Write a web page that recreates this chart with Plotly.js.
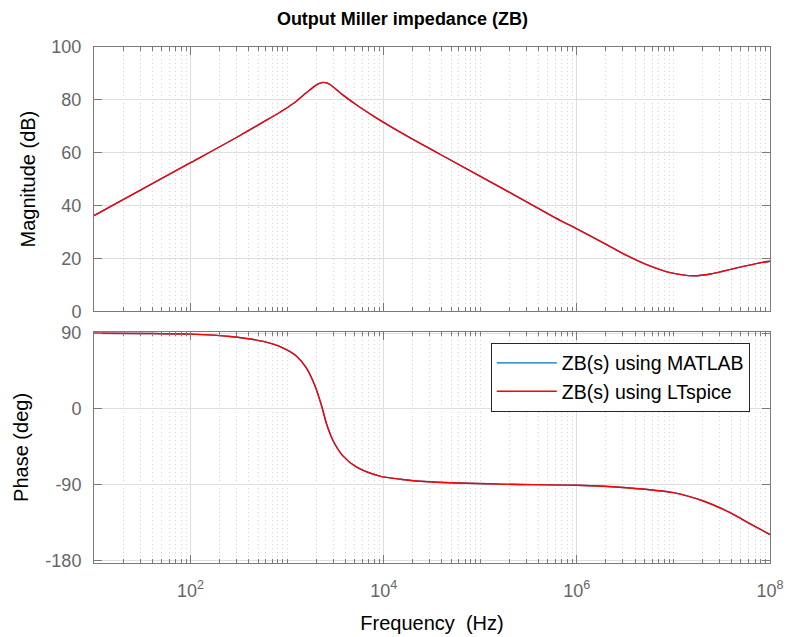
<!DOCTYPE html>
<html>
<head>
<meta charset="utf-8">
<script src="https://cdn.plot.ly/plotly-3.0.1.min.js"></script>
<style>html,body{margin:0;padding:0;background:#fff;}#chart{width:789px;height:637px;}</style>
</head>
<body>
<div id="chart"></div>
<script>
// Magnitude (dB) vs frequency (Hz)
const magFreq = [10, 31.6, 100, 325, 524, 843, 1159, 1592, 2022, 2200, 2368, 2560, 2780, 3820, 5675, 8450, 14800, 38300, 203000, 670000, 1000000, 1880000, 3280000, 5280000, 9230000, 16100000, 25900000, 45200000, 78900000, 100000000];
const magDb   = [36.2, 46.2, 56.2, 66.5, 70.9, 75.3, 78.6, 82.8, 85.7, 86.3, 86.6, 86.4, 85.8, 81.7, 77.2, 73.1, 67.8, 59.4, 44.9, 34.4, 31.2, 25.9, 21.1, 17.6, 14.6, 13.4, 14.3, 16.4, 18.3, 18.9];
// Phase (deg) vs frequency (Hz)
const phFreq = [10, 31.6, 100, 257, 566, 912, 1260, 1580, 1950, 2280, 2570, 3010, 3800, 5250, 9120, 14800, 32400, 158000, 1000000, 3280000, 10000000, 20400000, 38600000, 61700000, 100000000];
const phDeg  = [89.9, 89.6, 88.8, 86.0, 80.1, 72.2, 62.3, 48.6, 26.8, 3.1, -18.6, -38.4, -56.1, -69.2, -79.8, -83.5, -86.9, -89.4, -90.6, -93.6, -99.5, -109.4, -123.2, -136.2, -149.2];
const seriesNames = ['ZB(s) using MATLAB', 'ZB(s) using LTspice'];
const seriesColors = ['#0072BD', '#FF0000'];
const xTickVals = [1e2, 1e4, 1e6, 1e8];
const xTickText = ['10<sup>2</sup>', '10<sup>4</sup>', '10<sup>6</sup>', '10<sup>8</sup>'];
const magTicks = [0, 20, 40, 60, 80, 100];
const magTickText = ['0', '20', '40', '60', '80', '100'];
const phTicks = [-180, -90, 0, 90];
const phTickText = ['-180', '-90', '0', '90'];

const FONT = 'Liberation Sans, Arial, Helvetica, sans-serif';
const traces = [];
seriesNames.forEach((nm, i) => {
  traces.push({x: magFreq, y: magDb, xaxis: 'x', yaxis: 'y', mode: 'lines', name: nm,
    line: {color: seriesColors[i], width: 1.4, shape: 'spline', smoothing: 1.0}, showlegend: false});
  traces.push({x: phFreq, y: phDeg, xaxis: 'x2', yaxis: 'y2', mode: 'lines', name: nm,
    line: {color: seriesColors[i], width: 1.4, shape: 'spline', smoothing: 0.8}, showlegend: true});
});

const axCommon = {
  showline: true, linecolor: '#7a7a7a', linewidth: 1, mirror: 'ticks',
  ticks: 'inside', tickcolor: '#7a7a7a', zeroline: false,
  showgrid: true, gridcolor: '#dedede', gridwidth: 1,
  tickfont: {family: FONT, size: 18, color: '#666666'}
};
const xCommon = Object.assign({}, axCommon, {
  type: 'log', range: [1, 8], tickmode: 'array', tickvals: xTickVals, ticktext: xTickText, ticklen: 8,
  minor: {dtick: 'D1', ticks: 'inside', ticklen: 4, tickcolor: '#7a7a7a', showgrid: true, gridcolor: '#d4d4d4', griddash: '1px,3px', gridwidth: 1}
});

const layout = {
  width: 789, height: 637,
  margin: {l: 94, r: 19, t: 47, b: 74},
  paper_bgcolor: '#ffffff', plot_bgcolor: '#ffffff',
  font: {family: FONT, color: '#000'},
  title: {text: '<b>Output Miller impedance (ZB)</b>', font: {family: FONT, size: 18, color: '#000'},
          xref: 'container', yref: 'container', x: 0.51, xanchor: 'center', y: 0.97, yanchor: 'middle'},
  xaxis: Object.assign({}, xCommon, {domain: [0, 1], anchor: 'y', showticklabels: false}),
  yaxis: Object.assign({}, axCommon, {domain: [0.488, 1], anchor: 'x', range: [0, 100], tickmode: 'array', tickvals: magTicks, ticktext: magTickText, ticklen: 8,
    ticklabelstandoff: 8,
    title: {text: 'Magnitude (dB)', font: {family: FONT, size: 20, color: '#000'}, standoff: 10}}),
  xaxis2: Object.assign({}, xCommon, {domain: [0, 1], anchor: 'y2', ticklabelstandoff: 11,
    title: {text: 'Frequency  (Hz)', font: {family: FONT, size: 20, color: '#000'}, standoff: 16}}),
  yaxis2: Object.assign({}, axCommon, {domain: [0, 0.448], anchor: 'x2', range: [-183, 91.5], tickmode: 'array', tickvals: phTicks, ticktext: phTickText, ticklen: 8,
    ticklabelstandoff: 8,
    title: {text: 'Phase (deg)', font: {family: FONT, size: 20, color: '#000'}, standoff: 11}}),
  legend: {x: 0.587, y: 0.427, xanchor: 'left', yanchor: 'top', xref: 'paper', yref: 'paper',
    bgcolor: '#ffffff', bordercolor: '#262626', borderwidth: 1,
    font: {family: FONT, size: 19.5, color: '#000'}, itemwidth: 60, tracegroupgap: 0},
  showlegend: true
};

Plotly.newPlot('chart', traces, layout, {staticPlot: true, displayModeBar: false});
</script>
</body>
</html>
